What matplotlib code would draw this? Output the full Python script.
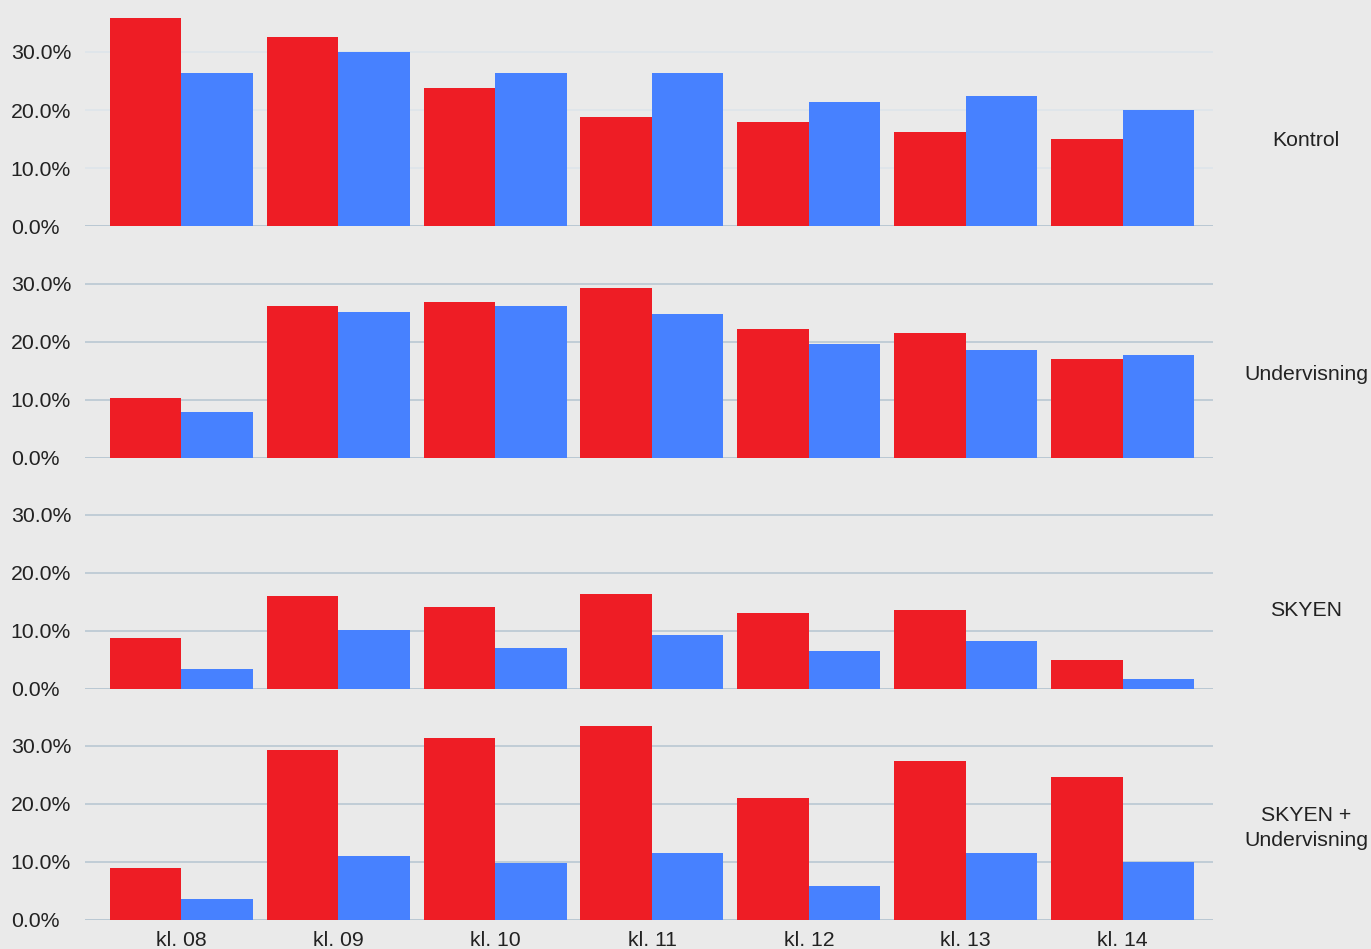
import matplotlib
matplotlib.use("Agg")
import matplotlib.pyplot as plt
import numpy as np

categories = ["kl. 08", "kl. 09", "kl. 10", "kl. 11", "kl. 12", "kl. 13", "kl. 14"]
panels = ["Kontrol", "Undervisning", "SKYEN", "SKYEN +\nUndervisning"]

red_kontrol = [35.9, 32.5, 23.8, 18.8, 17.9, 16.2, 15.0]
blue_kontrol = [26.4, 30.0, 26.4, 26.4, 21.4, 22.4, 20.0]
red_underv = [10.2, 26.1, 26.8, 29.2, 22.1, 21.4, 17.0]
blue_underv = [7.8, 25.1, 26.1, 24.7, 19.5, 18.5, 17.6]
red_skyen = [8.7, 15.9, 14.0, 16.3, 13.0, 13.5, 4.9]
blue_skyen = [3.3, 10.1, 6.9, 9.2, 6.4, 8.2, 1.6]
red_both = [8.9, 29.2, 31.3, 33.3, 21.0, 27.4, 24.5]
blue_both = [3.5, 11.0, 9.8, 11.5, 5.8, 11.5, 10.0]

yticks = [0, 10, 20, 30]
ytick_labels = ["0.0%", "10.0%", "20.0%", "30.0%"]

reds = [red_kontrol, red_underv, red_skyen, red_both]
blues = [blue_kontrol, blue_underv, blue_skyen, blue_both]

RED = "#ee1d25"
BLUE = "#4781ff"
BG = "#eaeaea"
GRID = "#b9c8d3"
GRID_LIGHT = "#dde4eb"
TXT = "#222222"
FS = 15.3

plt.rcParams["font.family"] = ["Liberation Sans", "DejaVu Sans"]

W, H = 1371, 949
fig = plt.figure(figsize=(W / 100, H / 100), dpi=100, facecolor=BG)

baselines = [226, 457.5, 688.5, 919.5]
label_y = [140, 375, 610, 828]
ytop = 38
px_per_unit = 5.8
left_px, right_px = 85, 1213

x = np.arange(len(categories))
bw = 0.456
for i, name in enumerate(panels):
    b = baselines[i]
    hpx = ytop * px_per_unit
    ax = fig.add_axes([left_px / W, (H - b) / H, (right_px - left_px) / W, hpx / H])
    ax.set_facecolor(BG)
    ax.bar(x - bw / 2, reds[i], width=bw, color=RED, zorder=3, linewidth=0)
    ax.bar(x + bw / 2, blues[i], width=bw, color=BLUE, zorder=3, linewidth=0)
    ax.set_xlim(-0.615, 6.577)
    ax.set_ylim(0, ytop)
    for s in ax.spines.values():
        s.set_visible(False)
    gc = GRID_LIGHT if i == 0 else GRID
    for t in yticks[1:]:
        ax.axhline(t, color=gc, lw=1.2, zorder=1)
    ax.axhline(0, color=GRID, lw=1.4, zorder=2)
    ax.set_yticks(yticks)
    ax.set_yticklabels(ytick_labels)
    ax.tick_params(axis="y", length=0, pad=53.5, labelsize=FS, labelcolor=TXT)
    for lbl in ax.get_yticklabels():
        lbl.set_horizontalalignment("left")
    ax.set_xticks(x)
    if i == len(panels) - 1:
        ax.set_xticklabels(categories)
        ax.tick_params(axis="x", length=0, pad=8, labelsize=FS, labelcolor=TXT)
    else:
        ax.set_xticklabels([])
        ax.tick_params(axis="x", length=0)
    fig.text(1306 / W, (H - label_y[i]) / H, name, ha="center", va="center",
             fontsize=FS, color=TXT, linespacing=1.35)

fig.savefig("out.png", dpi=100, facecolor=BG)
